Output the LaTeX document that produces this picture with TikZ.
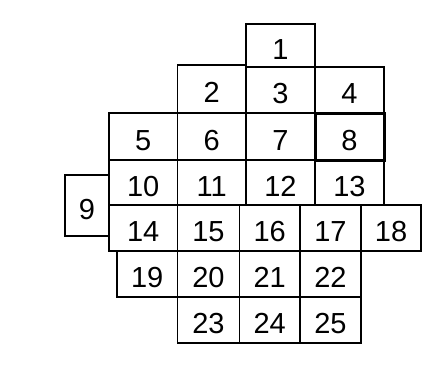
\documentclass[tikz,border=0pt]{standalone}
\usepackage{fontspec}
\setmainfont{Liberation Sans}
\tikzset{
  cell/.style={draw=black, line width=1.6pt, inner sep=0pt, fill=none,
    font=\fontsize{29}{29}\selectfont, text height=27pt, text depth=0pt},
  thickcell/.style={cell, line width=3pt}
}
% #1 style, #2 name, #3 x1, #4 y1, #5 x2, #6 y2, #7 text
\newcommand\mycell[7]{%
  \node[#1, minimum width={(#5-#3)*1pt}, minimum height={(#6-#4)*1pt}]
    (#2) at ({(#3+#5)/2},{(#4+#6)/2}) {#7};}
\begin{document}
\begin{tikzpicture}[x=1pt,y=-1pt]
\useasboundingbox (0,0) rectangle (439,384);
% row 1
\mycell{cell}{c1}{246}{24}{315}{67}{1}
% row 2
\mycell{cell}{c2}{177.5}{65}{246}{113}{2}
\mycell{cell}{c3}{246}{67}{315}{113}{3}
\mycell{cell}{c4}{315}{67}{384}{113}{4}
% row 3
\mycell{cell}{c5}{109}{113}{177.5}{160}{5}
\mycell{cell}{c6}{177.5}{113}{246}{160}{6}
\mycell{cell}{c7}{246}{113}{315}{160}{7}
% row 4
\mycell{cell}{c10}{109}{160}{177.5}{205}{10}
\mycell{cell}{c11}{177.5}{160}{246}{205}{11}
\mycell{cell}{c12}{246}{160}{315}{205}{12}
\mycell{cell}{c13}{315}{160}{384}{205}{13}
% box 9
\mycell{cell}{c9}{65}{175}{109}{236}{9}
% row 5
\mycell{cell}{c14}{109}{205}{177.5}{251}{14}
\mycell{cell}{c15}{177.5}{205}{239.5}{251}{15}
\mycell{cell}{c16}{239.5}{205}{300}{251}{16}
\mycell{cell}{c17}{300}{205}{361}{251}{17}
\mycell{cell}{c18}{361}{205}{421}{251}{18}
% row 6
\mycell{cell}{c19}{117}{251}{177.5}{297}{19}
\mycell{cell}{c20}{177.5}{251}{239.5}{297}{20}
\mycell{cell}{c21}{239.5}{251}{300}{297}{21}
\mycell{cell}{c22}{300}{251}{361}{297}{22}
% row 7
\mycell{cell}{c23}{177.5}{297}{239.5}{343}{23}
\mycell{cell}{c24}{239.5}{297}{300}{343}{24}
\mycell{cell}{c25}{300}{297}{361}{343}{25}
% box 8 (thick)
\mycell{thickcell}{c8}{315}{113}{384}{160}{8}
\end{tikzpicture}
\end{document}
